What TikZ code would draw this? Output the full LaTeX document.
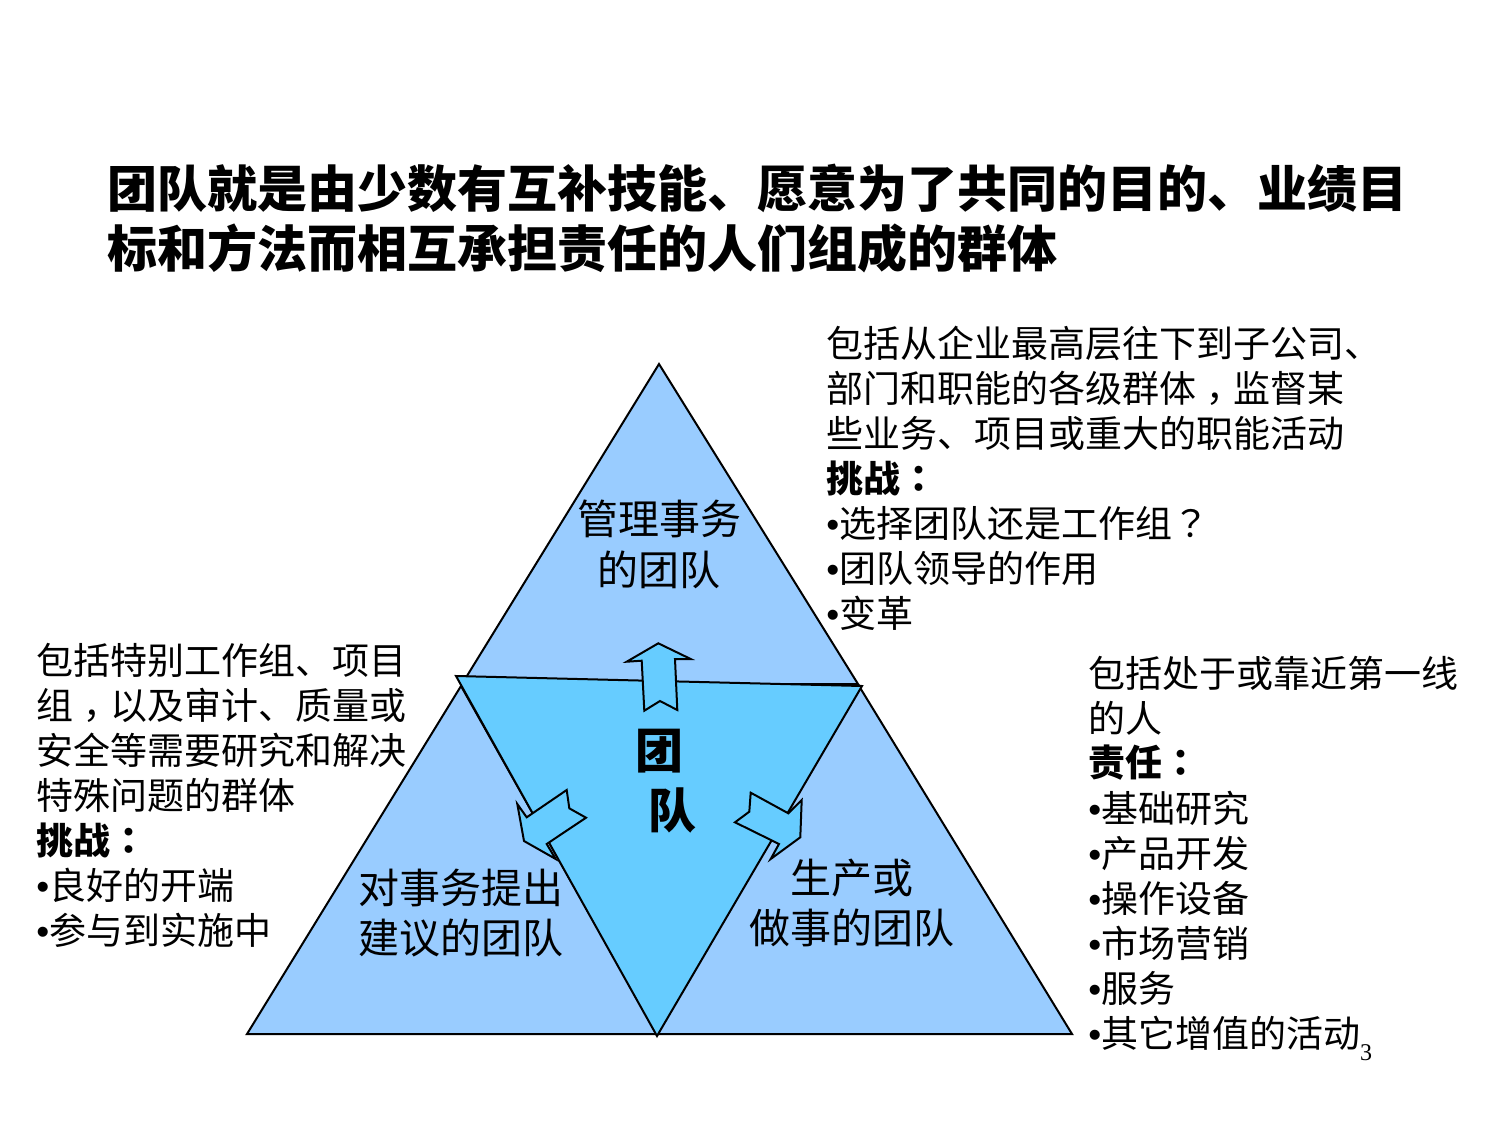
\documentclass[tikz,border=0pt]{standalone}
\usepackage{fontspec}
\setmainfont{Noto Sans CJK SC}
\newfontfamily\cjk{Noto Sans CJK SC}
\newfontfamily\tcpunct{Noto Sans CJK TC}
\newfontfamily\bulfont{Liberation Sans}
\newfontfamily\pgnum{Liberation Serif}
\newcommand{\mybul}{{\bulfont •}}
\newcommand{\cpunct}[1]{{\tcpunct #1}}
\newcommand{\lowcomma}{\raisebox{-0.28em}[0pt][0pt]{\tcpunct ，}}
\definecolor{outerblue}{HTML}{99CCFF}
\definecolor{innerblue}{HTML}{66CCFF}
\begin{document}
\begin{tikzpicture}[x=0.5pt,y=-0.5pt,
  tri/.style={draw=black,line width=1pt,line join=miter},
  arrowshape/.style={draw=black,fill=innerblue,line width=1pt,line join=miter},
  body/.style={inner sep=0pt,anchor=west,font=\cjk\fontsize{18.5pt}{22pt}\selectfont},
  bodybf/.style={body,font=\cjk\bfseries\fontsize{18.5pt}{22pt}\selectfont},
  title/.style={inner sep=0pt,anchor=west,font=\cjk\bfseries\fontsize{25pt}{30pt}\selectfont},
  trilabel/.style={inner sep=0pt,anchor=center,font=\cjk\fontsize{20.5pt}{25pt}\selectfont},
  bigbf/.style={inner sep=0pt,anchor=center,font=\cjk\bfseries\fontsize{24pt}{28pt}\selectfont}]
\useasboundingbox (0,0) rectangle (1500,1125);
\fill[white] (0,0) rectangle (1500,1125);

% title
\node[title] (t1) at (107,188) {团队就是由少数有互补技能、愿意为了共同的目的、业绩目};
\node[title] (t2) at (107,248) {标和方法而相互承担责任的人们组成的群体};

% outer triangles
\draw[tri,fill=outerblue] (659,364) -- (462,684) -- (858,684) -- cycle;
\draw[tri,fill=outerblue] (461,686) -- (247,1034) -- (657,1034) -- cycle;
\draw[tri,fill=outerblue] (859,686) -- (657,1034) -- (1072,1034) -- cycle;
% central inverted triangle
\draw[tri,fill=innerblue] (456,676) -- (862,686) -- (657,1036) -- cycle;

% arrows
\draw[arrowshape] (658.3,643.3) -- (690.7,659) -- (675,659) -- (677.3,710) -- (660,701)
  -- (644.3,710.7) -- (641.7,660.7) -- (626.7,661.7) -- cycle;
\draw[arrowshape] (517.3,804) -- (526.7,817.3) -- (566.7,790) -- (569.3,808.3) -- (586,817.7)
  -- (546.7,844) -- (555.7,859) -- (524,841) -- cycle;
\draw[arrowshape] (750.7,792.7) -- (788.3,813.3) -- (801.7,800) -- (800.3,837.3) -- (770.7,859)
  -- (779,844) -- (735,822.3) -- (749.3,811.7) -- cycle;

% triangle labels
\node[trilabel] (m1) at (659,519) {管理事务};
\node[trilabel] (m2) at (659,570) {的团队};
\node[trilabel] (l1) at (461,888) {对事务提出};
\node[trilabel] (l2) at (461,938) {建议的团队};
\node[trilabel] (r1) at (852,878) {生产或};
\node[trilabel] (r2) at (852,928) {做事的团队};
\node[bigbf] (g1) at (659,751) {团};
\node[bigbf] (g2) at (672,810) {队};

% top-right block
\node[body]   (a1) at (826,343) {包括从企业最高层往下到子公司、};
\node[body]   (a2) at (826,388) {部门和职能的各级群体\lowcomma 监督某};
\node[body]   (a3) at (826,433) {些业务、项目或重大的职能活动};
\node[bodybf] (a4) at (826,478) {挑战\cpunct{：}};
\node[body]   (a5) at (826,523) {\mybul 选择团队还是工作组\cpunct{？}};
\node[body]   (a6) at (826,568) {\mybul 团队领导的作用};
\node[body]   (a7) at (826,613) {\mybul 变革};

% left block
\node[body]   (b1) at (36,660) {包括特别工作组、项目};
\node[body]   (b2) at (36,705) {组\lowcomma 以及审计、质量或};
\node[body]   (b3) at (36,750) {安全等需要研究和解决};
\node[body]   (b4) at (36,795) {特殊问题的群体};
\node[bodybf] (b5) at (36,840) {挑战\cpunct{：}};
\node[body]   (b6) at (36,885) {\mybul 良好的开端};
\node[body]   (b7) at (36,930) {\mybul 参与到实施中};

% right-bottom block
\node[body]   (c1) at (1088,673) {包括处于或靠近第一线};
\node[body]   (c2) at (1088,718) {的人};
\node[bodybf] (c3) at (1088,763) {责任\cpunct{：}};
\node[body]   (c4) at (1088,808) {\mybul 基础研究};
\node[body]   (c5) at (1088,853) {\mybul 产品开发};
\node[body]   (c6) at (1088,898) {\mybul 操作设备};
\node[body]   (c7) at (1088,943) {\mybul 市场营销};
\node[body]   (c8) at (1088,988) {\mybul 服务};
\node[body]   (c9) at (1088,1033) {\mybul 其它增值的活动};

% page number
\node[inner sep=0pt,font=\pgnum\fontsize{12pt}{14pt}\selectfont] (pg) at (1366,1053) {3};
\end{tikzpicture}
\end{document}
